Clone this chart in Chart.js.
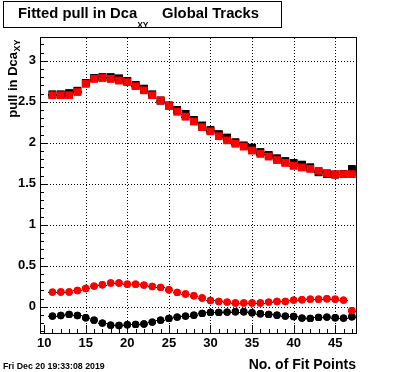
<!DOCTYPE html>
<html>
<head>
<meta charset="utf-8">
<script src="https://cdn.jsdelivr.net/npm/chart.js@4"></script>
<style>
  html, body { margin: 0; padding: 0; background: #fff; }
  canvas { display: block; }
</style>
</head>
<body>
<canvas id="pullChart" width="396" height="372"></canvas>
<script>
// No. of fit points (bins)
const fitPoints = [11, 12, 13, 14, 15, 16, 17, 18, 19, 20, 21, 22, 23, 24, 25, 26, 27, 28, 29,
                   30, 31, 32, 33, 34, 35, 36, 37, 38, 39, 40, 41, 42, 43, 44, 45, 46, 47];

// fitted sigma of the pull (squares)
const sigmaRed = [2.58, 2.58, 2.58, 2.62, 2.72, 2.78, 2.79, 2.78, 2.76, 2.74, 2.69, 2.64, 2.58,
                  2.515, 2.45, 2.38, 2.32, 2.26, 2.19, 2.14, 2.08, 2.03, 1.99, 1.955, 1.906, 1.866,
                  1.833, 1.79, 1.756, 1.72, 1.70, 1.683, 1.658, 1.63, 1.613, 1.618, 1.618];
const sigmaBlack = [2.59, 2.59, 2.605, 2.635, 2.73, 2.79, 2.80, 2.80, 2.785, 2.755, 2.706, 2.66, 2.59,
                    2.515, 2.455, 2.40, 2.353, 2.28, 2.21, 2.155, 2.105, 2.063, 2.006, 1.967, 1.94, 1.886,
                    1.85, 1.81, 1.776, 1.753, 1.733, 1.70, 1.64, 1.62, 1.613, 1.62, 1.68];

// fitted mean of the pull (circles)
const meanRed = [0.179, 0.18, 0.18, 0.199, 0.223, 0.252, 0.268, 0.289, 0.289, 0.276, 0.276, 0.264,
                 0.248, 0.236, 0.207, 0.175, 0.155, 0.134, 0.106, 0.077, 0.065, 0.057, 0.045, 0.045,
                 0.045, 0.045, 0.057, 0.065, 0.065, 0.081, 0.085, 0.093, 0.093, 0.098, 0.093, 0.081, -0.049];
const meanBlack = [-0.114, -0.106, -0.093, -0.106, -0.134, -0.163, -0.199, -0.224, -0.228, -0.22, -0.215,
                   -0.211, -0.187, -0.163, -0.142, -0.126, -0.114, -0.102, -0.081, -0.069, -0.069, -0.065,
                   -0.061, -0.061, -0.073, -0.085, -0.093, -0.102, -0.114, -0.118, -0.138, -0.142, -0.13,
                   -0.126, -0.134, -0.138, -0.122];

const xTickValues = [10, 15, 20, 25, 30, 35, 40, 45];
const yTickValues = [0, 0.5, 1, 1.5, 2, 2.5, 3];
const xRange = [9.5, 47.5];
const yRange = [-0.32, 3.29];

const FONT = 'Liberation Sans, Arial, Helvetica, sans-serif';

function points(values) {
    return values.map((v, i) => ({ x: fitPoints[i], y: v }));
}

function drawUnderlay(chart) {
    const { ctx, chartArea: a, scales: { x, y } } = chart;
    const left = Math.round(a.left), right = Math.round(a.right);
    const top = Math.round(a.top), bottom = Math.round(a.bottom);
    ctx.save();
    ctx.fillStyle = '#000';
    // dotted grid at the major tick values: 1px dots every 3px
    xTickValues.forEach(v => {
        const px = Math.round(x.getPixelForValue(v));
        if (px - left < 6) return;   // no grid line next to the axis
        for (let yy = top + 1; yy < bottom; yy += 3) ctx.fillRect(px, yy, 1, 1);
    });
    yTickValues.forEach(v => {
        const py = Math.round(y.getPixelForValue(v));
        for (let xx = left + 1; xx < right; xx += 3) ctx.fillRect(xx, py, 1, 1);
    });

    // horizontal error bars (half a bin each side)
    chart.data.datasets.forEach(ds => {
        ds.data.forEach(p => {
            const py = Math.round(y.getPixelForValue(p.y));
            const x0 = Math.round(x.getPixelForValue(p.x - 0.5));
            const x1 = Math.round(x.getPixelForValue(p.x + 0.5));
            ctx.fillRect(x0, py, x1 - x0, 1);
        });
    });
    ctx.restore();
}

// ROOT-like dotted grid, frame, inner ticks, error bars and labels
const rootStyle = {
    id: 'rootStyle',
    afterDatasetsDraw(chart) {
        const { ctx, chartArea: a, scales: { x, y } } = chart;
        drawUnderlay(chart);
        // markers again on top of grid and error bars
        const metas = chart.getSortedVisibleDatasetMetas();
        for (let i = metas.length - 1; i >= 0; i--) metas[i].controller.draw();

        ctx.save();
        ctx.strokeStyle = '#000';
        ctx.lineWidth = 1;
        ctx.beginPath();
        // minor + major ticks on x
        for (let v = Math.ceil(xRange[0]); v <= xRange[1]; v++) {
            const px = Math.round(x.getPixelForValue(v)) + 0.5;
            const len = v % 5 === 0 ? 8 : 4;
            ctx.moveTo(px, a.bottom);
            ctx.lineTo(px, a.bottom - len);
        }
        // minor + major ticks on y
        for (let k = Math.ceil(yRange[0] * 10); k <= yRange[1] * 10; k++) {
            const py = Math.round(y.getPixelForValue(k / 10)) + 0.5;
            const len = k % 5 === 0 ? 8 : 4;
            ctx.moveTo(a.left, py);
            ctx.lineTo(a.left + len, py);
        }
        ctx.stroke();
        ctx.strokeRect(Math.round(a.left) + 0.5, Math.round(a.top) + 0.5,
                       Math.round(a.right - a.left), Math.round(a.bottom - a.top));
        ctx.restore();
    },
    afterDraw(chart) {
        const { ctx, chartArea: a } = chart;
        ctx.save();

        // title box
        ctx.fillStyle = '#fff';
        ctx.fillRect(3.5, 1.5, 278, 26);
        ctx.strokeStyle = '#000';
        ctx.lineWidth = 1;
        ctx.strokeRect(3.5, 1.5, 278, 26);
        ctx.fillStyle = '#000';
        ctx.textBaseline = 'alphabetic';
        ctx.font = 'bold 14.8px ' + FONT;
        const main = 'Fitted pull in Dca';
        ctx.fillText(main, 18, 17.5);
        const w = ctx.measureText(main).width;
        ctx.font = 'bold 8.5px ' + FONT;
        ctx.fillText('XY', 18 + w, 28);
        ctx.font = 'bold 14.8px ' + FONT;
        ctx.fillText('Global Tracks', 162, 17.5);

        // x axis title
        ctx.font = 'bold 14px ' + FONT;
        ctx.textAlign = 'right';
        ctx.fillText('No. of Fit Points', a.right, 369);

        // y axis title, rotated, aligned to the top of the frame
        ctx.textAlign = 'left';
        ctx.font = 'bold 13px ' + FONT;
        const yMain = 'pull in Dca';
        const wm = ctx.measureText(yMain).width;
        ctx.font = 'bold 9px ' + FONT;
        const ws = ctx.measureText('XY').width;
        ctx.translate(16.5, a.top + 3 + wm + ws);
        ctx.rotate(-Math.PI / 2);
        ctx.font = 'bold 13px ' + FONT;
        ctx.fillText(yMain, 0, 0);
        ctx.font = 'bold 9px ' + FONT;
        ctx.fillText('XY', wm + 0.5, 3.5);
        ctx.setTransform(1, 0, 0, 1, 0, 0);

        // date stamp
        ctx.font = 'bold 8.8px ' + FONT;
        ctx.fillText('Fri Dec 20 19:33:08 2019', 3, 369);
        ctx.restore();
    }
};

const ctx = document.getElementById('pullChart').getContext('2d');

new Chart(ctx, {
    type: 'scatter',
    data: {
        datasets: [
            { label: 'sigma red', data: points(sigmaRed), pointStyle: 'rect', pointRadius: 5.4,
              backgroundColor: '#ff0000', borderColor: '#ff0000', pointBorderWidth: 0 },
            { label: 'sigma black', data: points(sigmaBlack), pointStyle: 'rect', pointRadius: 5.4,
              backgroundColor: '#000000', borderColor: '#000000', pointBorderWidth: 0 },
            { label: 'mean red', data: points(meanRed), pointStyle: 'circle', pointRadius: 3.7,
              backgroundColor: '#ff0000', borderColor: '#ff0000', pointBorderWidth: 0 },
            { label: 'mean black', data: points(meanBlack), pointStyle: 'circle', pointRadius: 3.7,
              backgroundColor: '#000000', borderColor: '#000000', pointBorderWidth: 0 }
        ]
    },
    options: {
        responsive: false,
        animation: false,
        layout: { padding: { left: 0, right: 40, top: 37, bottom: 0 } },
        plugins: { legend: { display: false }, tooltip: { enabled: false }, title: { display: false } },
        scales: {
            x: {
                type: 'linear',
                min: xRange[0],
                max: xRange[1],
                grid: { display: false, drawTicks: false },
                border: { display: false },
                afterBuildTicks: scale => { scale.ticks = xTickValues.map(v => ({ value: v })); },
                afterFit: scale => { scale.height = 39; },
                ticks: {
                    padding: 3,
                    color: '#000',
                    maxRotation: 0,
                    autoSkip: false,
                    font: { family: FONT, size: 13, weight: 'bold' },
                    callback: v => String(v)
                }
            },
            y: {
                type: 'linear',
                min: yRange[0],
                max: yRange[1],
                grid: { display: false, drawTicks: false },
                border: { display: false },
                afterBuildTicks: scale => { scale.ticks = yTickValues.map(v => ({ value: v })); },
                afterFit: scale => { scale.width = 40; },
                ticks: {
                    padding: 4,
                    color: '#000',
                    autoSkip: false,
                    font: { family: FONT, size: 13, weight: 'bold' },
                    callback: v => String(v)
                }
            }
        }
    },
    plugins: [rootStyle]
});
</script>
</body>
</html>
